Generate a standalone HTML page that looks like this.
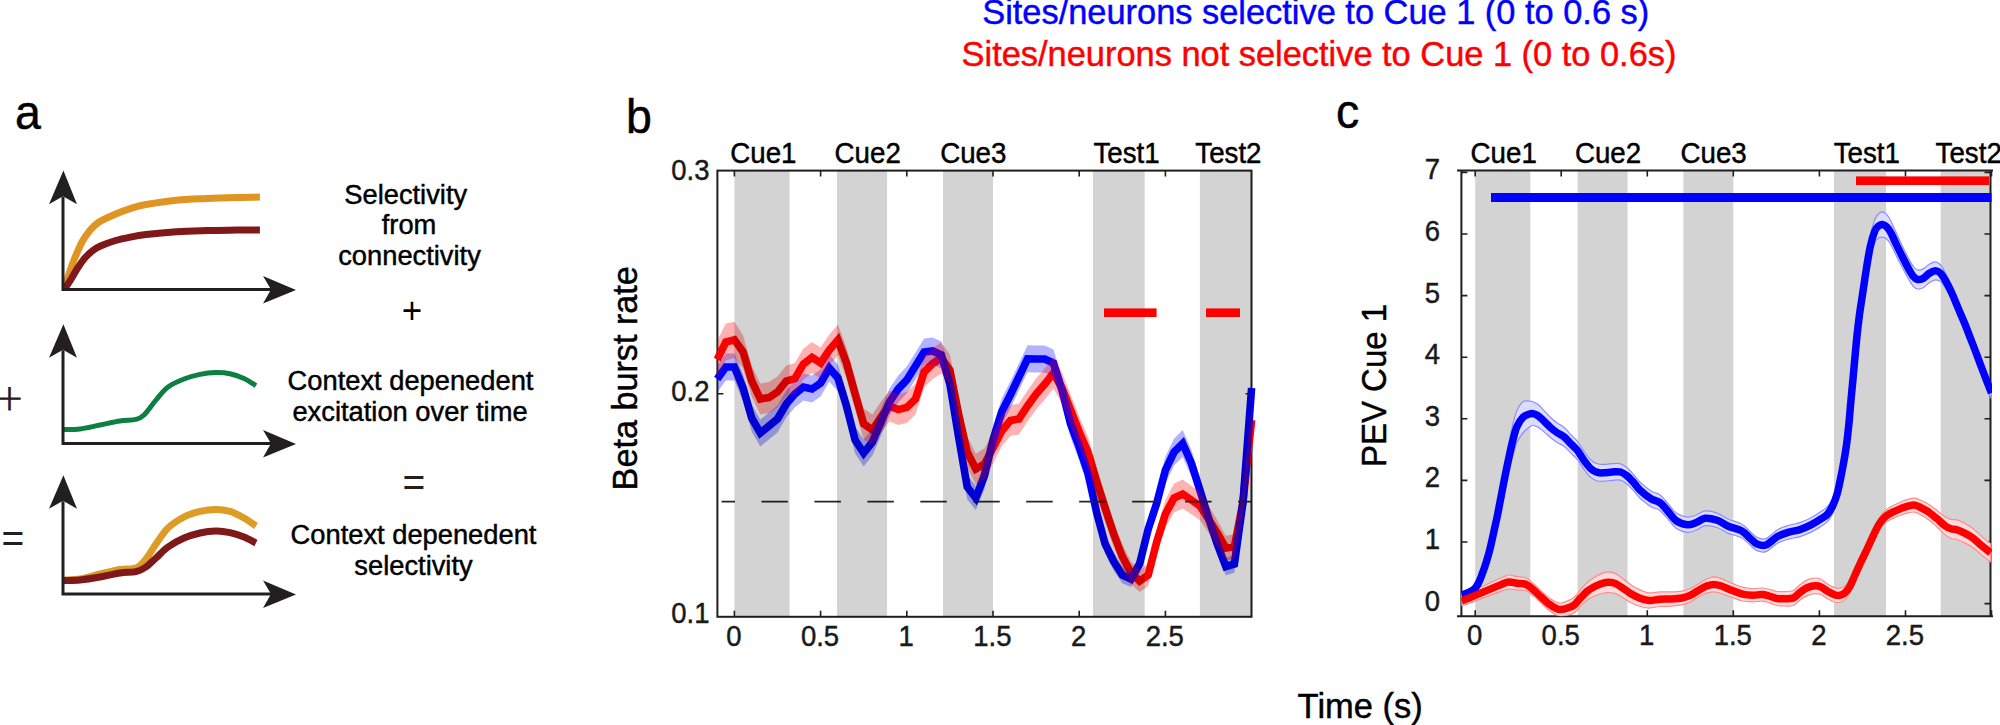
<!DOCTYPE html>
<html lang="en"><head><meta charset="utf-8"><title>Figure</title>
<style>html,body{margin:0;padding:0;background:#fff}body{width:2000px;height:725px;overflow:hidden}svg{display:block}text{font-family:'Liberation Sans', Arial, sans-serif;fill:#000;stroke:#000;stroke-width:0.45px}.bl{fill:#00f;stroke:#00f}.rd{fill:#f00;stroke:#f00}.dk{fill:#231f20;stroke:#231f20}.tk{fill:#1a1a1a;stroke:#1a1a1a}</style>
</head><body>
<svg width="2000" height="725" viewBox="0 0 2000 725">
<rect width="2000" height="725" fill="#fff"/>
<text transform="translate(1315.7,24.4) scale(1,1.04)" font-size="34.4" text-anchor="middle" class="bl">Sites/neurons selective to Cue 1 (0 to 0.6 s)</text>
<text transform="translate(1319,66) scale(1,1.04)" font-size="34.4" text-anchor="middle" class="rd">Sites/neurons not selective to Cue 1 (0 to 0.6s)</text>
<g id="panel-a">
<text transform="translate(15,128.6) scale(1,1.04)" font-size="46.5">a</text>
<path d="M65.5,285.5 C66.1,283.6 67.6,278.2 69.0,274.0 C70.4,269.8 71.8,265.4 74.0,260.0 C76.2,254.6 79.6,246.4 82.3,241.5 C85.0,236.6 87.1,233.8 89.9,230.5 C92.7,227.2 94.7,224.8 99.0,222.0 C103.3,219.2 110.4,216.3 115.7,214.0 C121.0,211.7 125.9,209.9 130.9,208.3 C136.0,206.7 138.4,205.8 146.0,204.5 C153.6,203.2 166.3,201.2 176.4,200.2 C186.5,199.2 196.6,198.9 206.7,198.4 C216.8,197.9 228.2,197.6 237.1,197.4 C246.0,197.2 256.1,197.2 259.9,197.1" fill="none" stroke="#e09422" stroke-width="7"/>
<path d="M65.0,288.5 C65.9,287.1 68.4,283.5 70.6,280.0 C72.8,276.5 75.5,271.2 78.0,267.5 C80.5,263.8 82.8,260.3 85.3,257.5 C87.8,254.7 90.4,252.4 92.9,250.5 C95.4,248.6 96.7,247.7 100.5,246.0 C104.3,244.3 110.6,242.0 115.7,240.5 C120.8,239.0 125.9,238.0 130.9,237.0 C136.0,236.0 138.4,235.5 146.0,234.6 C153.6,233.7 166.3,232.4 176.4,231.7 C186.5,231.0 196.6,230.8 206.7,230.5 C216.8,230.2 228.2,230.2 237.1,230.1 C246.0,230.0 256.1,230.1 259.9,230.1" fill="none" stroke="#7f1818" stroke-width="7"/>
<path d="M63.5,429.6 C66.2,429.5 73.9,429.8 80.0,429.0 C86.1,428.2 93.3,426.3 100.0,425.0 C106.7,423.7 114.0,421.9 120.0,421.0 C126.0,420.1 132.0,420.4 136.0,419.4 C140.0,418.4 140.7,418.2 144.0,415.0 C147.3,411.8 152.0,404.7 156.0,400.0 C160.0,395.3 163.3,390.5 168.0,387.0 C172.7,383.5 178.7,381.1 184.0,379.0 C189.3,376.9 194.7,375.5 200.0,374.4 C205.3,373.3 211.0,372.7 216.0,372.6 C221.0,372.5 225.3,372.8 230.0,373.8 C234.7,374.8 239.7,376.4 244.0,378.4 C248.3,380.4 254.0,384.4 256.0,385.6" fill="none" stroke="#0d7f40" stroke-width="5"/>
<path d="M63.5,580.0 C66.2,579.8 73.9,580.0 80.0,579.0 C86.1,578.0 93.3,575.6 100.0,574.0 C106.7,572.4 114.0,570.4 120.0,569.4 C126.0,568.4 131.7,569.7 136.0,568.0 C140.3,566.3 142.7,563.0 146.0,559.0 C149.3,555.0 152.3,549.2 156.0,544.0 C159.7,538.8 163.3,532.5 168.0,528.0 C172.7,523.5 178.7,519.8 184.0,517.0 C189.3,514.2 194.7,512.7 200.0,511.4 C205.3,510.1 211.0,509.4 216.0,509.4 C221.0,509.4 225.3,510.0 230.0,511.4 C234.7,512.8 239.7,515.6 244.0,518.0 C248.3,520.4 254.0,524.7 256.0,526.0" fill="none" stroke="#dc9c26" stroke-width="7"/>
<path d="M63.5,580.4 C66.2,580.3 73.9,580.6 80.0,580.0 C86.1,579.4 93.3,578.2 100.0,577.0 C106.7,575.8 114.0,573.9 120.0,573.0 C126.0,572.1 131.7,572.6 136.0,571.6 C140.3,570.6 142.7,569.3 146.0,567.0 C149.3,564.7 152.3,561.3 156.0,558.0 C159.7,554.7 163.3,550.3 168.0,547.0 C172.7,543.7 178.7,540.3 184.0,538.0 C189.3,535.7 194.7,534.2 200.0,533.0 C205.3,531.8 211.0,531.1 216.0,531.0 C221.0,530.9 225.3,531.6 230.0,532.6 C234.7,533.6 239.7,535.3 244.0,537.0 C248.3,538.7 254.0,542.0 256.0,543.0" fill="none" stroke="#7f1818" stroke-width="7"/>
<path d="M63,196.6 V289.6 H272" fill="none" stroke="#231f20" stroke-width="3" stroke-linejoin="miter"/>
<path d="M63.4,170.6 L77,204.2 L63,196.2 L49,204.2 Z" fill="#231f20"/>
<path d="M296,290.0 L263,303.6 L271,289.6 L263,276.0 Z" fill="#231f20"/>
<path d="M63,350.2 V443.6 H272" fill="none" stroke="#231f20" stroke-width="3" stroke-linejoin="miter"/>
<path d="M63.4,324.2 L77,357.8 L63,349.8 L49,357.8 Z" fill="#231f20"/>
<path d="M296,444.0 L263,457.6 L271,443.6 L263,430.0 Z" fill="#231f20"/>
<path d="M63,501.2 V594 H272" fill="none" stroke="#231f20" stroke-width="3" stroke-linejoin="miter"/>
<path d="M63.4,475.2 L77,508.8 L63,500.8 L49,508.8 Z" fill="#231f20"/>
<path d="M296,594.4 L263,608 L271,594 L263,580.4 Z" fill="#231f20"/>
<text transform="translate(9.6,409.7) scale(1,1.04)" font-size="34" text-anchor="middle" class="dk" style="font-family:'DejaVu Sans','Liberation Sans',sans-serif;font-weight:200;stroke-width:0.9px">+</text>
<text transform="translate(13,551.5) scale(1,1.04)" font-size="39" text-anchor="middle" class="dk" style="stroke:none">=</text>
<text transform="translate(405.7,203.6) scale(1,1.04)" font-size="27.3" text-anchor="middle">Selectivity</text>
<text transform="translate(409,234.4) scale(1,1.04)" font-size="27.3" text-anchor="middle">from</text>
<text transform="translate(409.5,265) scale(1,1.04)" font-size="27.3" text-anchor="middle">connectivity</text>
<text transform="translate(410.5,390) scale(1,1.04)" font-size="27.3" text-anchor="middle">Context depenedent</text>
<text transform="translate(410,421) scale(1,1.04)" font-size="27.3" text-anchor="middle">excitation over time</text>
<text transform="translate(413.5,544) scale(1,1.04)" font-size="27.3" text-anchor="middle">Context depenedent</text>
<text transform="translate(413.5,575) scale(1,1.04)" font-size="27.3" text-anchor="middle">selectivity</text>
<text transform="translate(411.9,323.3) scale(1,1.04)" font-size="35" text-anchor="middle" style="stroke:none">+</text>
<text transform="translate(413.9,496.3) scale(1,1.04)" font-size="39" text-anchor="middle" class="dk" style="stroke:none">=</text>
</g>
<g id="panel-b">
<text transform="translate(626,133) scale(1,1.04)" font-size="46.5">b</text>
<rect x="717.4" y="170.6" width="534.1" height="446.19999999999993" fill="none" stroke="#1f1f1f" stroke-width="2"/>
<clipPath id="clipb"><rect x="711.4" y="170.6" width="544.6" height="446.19999999999993"/></clipPath>
<g clip-path="url(#clipb)">
<polyline points="717.2,359.5 725.8,342.0 734.4,339.8 743.1,352.0 751.7,381.0 760.3,399.0 768.9,397.6 777.5,392.0 786.2,381.0 794.8,378.6 803.4,364.0 812.0,357.4 820.6,363.0 829.3,350.0 837.9,340.0 846.5,363.0 855.1,394.0 863.7,424.0 872.4,430.0 881.0,417.0 889.6,406.0 898.2,409.6 906.8,407.4 915.5,399.0 924.1,372.0 932.7,363.6 941.3,358.0 949.9,370.0 958.6,414.0 967.2,452.0 975.8,469.0 984.4,464.0 993.0,448.0 1001.7,431.0 1010.3,420.5 1018.9,419.0 1027.5,406.0 1036.1,394.0 1044.8,384.0 1053.4,373.0 1062.0,388.0 1070.6,410.0 1079.2,432.0 1087.9,452.0 1096.5,481.0 1105.1,508.0 1113.7,534.0 1122.3,556.5 1131.0,572.7 1139.6,581.0 1148.2,575.0 1156.8,541.6 1165.4,514.0 1174.1,498.0 1182.7,494.0 1191.3,500.0 1199.9,506.0 1208.5,519.0 1217.2,533.0 1225.8,548.0 1234.4,546.6 1243.0,502.0 1251.6,420.0" fill="none" stroke="#ff0000" stroke-width="7.6" stroke-linejoin="miter" stroke-miterlimit="3"/>
<polyline points="717.2,379.0 725.8,367.0 734.4,367.0 743.1,388.0 751.7,418.0 760.3,433.0 768.9,426.0 777.5,419.0 786.2,404.0 794.8,394.0 803.4,387.0 812.0,389.0 820.6,383.0 829.3,368.0 837.9,378.0 846.5,406.0 855.1,440.0 863.7,453.0 872.4,442.0 881.0,422.0 889.6,402.0 898.2,389.0 906.8,380.0 915.5,366.0 924.1,352.0 932.7,351.0 941.3,355.0 949.9,384.0 958.6,437.0 967.2,487.0 975.8,498.0 984.4,476.0 993.0,440.0 1001.7,412.0 1010.3,395.0 1018.9,377.0 1027.5,358.8 1036.1,359.0 1044.8,359.0 1053.4,363.0 1062.0,390.0 1070.6,424.0 1079.2,447.0 1087.9,473.0 1096.5,512.0 1105.1,544.0 1113.7,561.5 1122.3,575.0 1131.0,579.0 1139.6,564.0 1148.2,529.0 1156.8,503.0 1165.4,470.0 1174.1,452.0 1182.7,443.5 1191.3,463.0 1199.9,490.0 1208.5,518.0 1217.2,544.0 1225.8,566.5 1234.4,564.0 1243.0,502.0 1251.6,388.0" fill="none" stroke="#0000ff" stroke-width="7.6" stroke-linejoin="miter" stroke-miterlimit="3"/>
<polygon points="717.2,365.5 725.8,353.5 734.4,353.5 743.1,374.5 751.7,404.5 760.3,419.5 768.9,412.5 777.5,405.5 786.2,390.5 794.8,380.5 803.4,373.5 812.0,375.5 820.6,369.5 829.3,354.5 837.9,364.5 846.5,392.5 855.1,426.5 863.7,439.5 872.4,428.5 881.0,408.5 889.6,388.5 898.2,375.5 906.8,366.5 915.5,352.5 924.1,338.5 932.7,337.5 941.3,341.5 949.9,370.5 958.6,423.5 967.2,474.4 975.8,485.9 984.4,462.8 993.0,426.5 1001.7,398.5 1010.3,381.5 1018.9,363.5 1027.5,345.3 1036.1,345.5 1044.8,345.5 1053.4,349.5 1062.0,376.5 1070.6,410.5 1079.2,433.5 1087.9,459.6 1096.5,500.6 1105.1,534.2 1113.7,552.6 1122.3,566.8 1131.0,571.0 1139.6,555.2 1148.2,518.5 1156.8,491.1 1165.4,456.5 1174.1,438.5 1182.7,430.0 1191.3,449.5 1199.9,477.5 1208.5,506.9 1217.2,534.2 1225.8,557.8 1234.4,555.2 1243.0,490.1 1251.6,374.5 1251.6,401.5 1243.0,513.9 1234.4,572.8 1225.8,575.2 1217.2,553.8 1208.5,529.1 1199.9,502.5 1191.3,476.5 1182.7,457.0 1174.1,465.5 1165.4,483.5 1156.8,514.9 1148.2,539.5 1139.6,572.8 1131.0,587.0 1122.3,583.2 1113.7,570.4 1105.1,553.8 1096.5,523.4 1087.9,486.4 1079.2,460.5 1070.6,437.5 1062.0,403.5 1053.4,376.5 1044.8,372.5 1036.1,372.5 1027.5,372.3 1018.9,390.5 1010.3,408.5 1001.7,425.5 993.0,453.5 984.4,489.2 975.8,510.1 967.2,499.6 958.6,450.5 949.9,397.5 941.3,368.5 932.7,364.5 924.1,365.5 915.5,379.5 906.8,393.5 898.2,402.5 889.6,415.5 881.0,435.5 872.4,455.5 863.7,466.5 855.1,453.5 846.5,419.5 837.9,391.5 829.3,381.5 820.6,396.5 812.0,402.5 803.4,400.5 794.8,407.5 786.2,417.5 777.5,432.5 768.9,439.5 760.3,446.5 751.7,431.5 743.1,401.5 734.4,380.5 725.8,380.5 717.2,392.5" fill="#0000ff" fill-opacity="0.3"/>
<polygon points="717.2,341.0 725.8,323.5 734.4,321.8 743.1,335.5 751.7,365.5 760.3,383.5 768.9,382.1 777.5,376.5 786.2,365.5 794.8,363.1 803.4,348.5 812.0,341.9 820.6,347.5 829.3,334.5 837.9,324.5 846.5,347.5 855.1,378.5 863.7,408.5 872.4,414.5 881.0,401.5 889.6,390.5 898.2,394.1 906.8,391.9 915.5,383.5 924.1,356.5 932.7,348.1 941.3,342.5 949.9,354.5 958.6,398.5 967.2,436.5 975.8,453.5 984.4,448.5 993.0,432.5 1001.7,415.5 1010.3,405.0 1018.9,403.5 1027.5,390.5 1036.1,378.5 1044.8,368.5 1053.4,357.5 1062.0,372.5 1070.6,394.5 1079.2,416.5 1087.9,436.5 1096.5,465.9 1105.1,494.1 1113.7,521.1 1122.3,544.5 1131.0,561.4 1139.6,570.0 1148.2,563.8 1156.8,529.0 1165.4,500.3 1174.1,483.6 1182.7,479.5 1191.3,485.7 1199.9,492.0 1208.5,505.5 1217.2,520.1 1225.8,535.7 1234.4,534.2 1243.0,487.8 1251.6,404.5 1251.6,435.5 1243.0,516.2 1234.4,559.0 1225.8,560.3 1217.2,545.9 1208.5,532.5 1199.9,520.0 1191.3,514.3 1182.7,508.5 1174.1,512.4 1165.4,527.7 1156.8,554.2 1148.2,586.2 1139.6,592.0 1131.0,584.0 1122.3,568.5 1113.7,546.9 1105.1,521.9 1096.5,496.1 1087.9,467.5 1079.2,447.5 1070.6,425.5 1062.0,403.5 1053.4,388.5 1044.8,399.5 1036.1,409.5 1027.5,421.5 1018.9,434.5 1010.3,436.0 1001.7,446.5 993.0,463.5 984.4,479.5 975.8,484.5 967.2,467.5 958.6,429.5 949.9,385.5 941.3,373.5 932.7,379.1 924.1,387.5 915.5,414.5 906.8,422.9 898.2,425.1 889.6,421.5 881.0,432.5 872.4,445.5 863.7,439.5 855.1,409.5 846.5,378.5 837.9,355.5 829.3,365.5 820.6,378.5 812.0,372.9 803.4,379.5 794.8,394.1 786.2,396.5 777.5,407.5 768.9,413.1 760.3,414.5 751.7,396.5 743.1,368.5 734.4,357.8 725.8,360.5 717.2,378.0" fill="#ff0000" fill-opacity="0.3"/>
<line x1="721.5" y1="501.6" x2="1251.5" y2="501.6" stroke="#262626" stroke-width="1.8" stroke-dasharray="26.5 26.45" stroke-dashoffset="13"/>
</g>
<rect x="734.4" y="170.6" width="55.2" height="446.19999999999993" fill="#000" fill-opacity="0.173"/>
<rect x="837.0" y="170.6" width="50.0" height="446.19999999999993" fill="#000" fill-opacity="0.173"/>
<rect x="943.0" y="170.6" width="50.0" height="446.19999999999993" fill="#000" fill-opacity="0.173"/>
<rect x="1093.0" y="170.6" width="51.7" height="446.19999999999993" fill="#000" fill-opacity="0.173"/>
<rect x="1199.9" y="170.6" width="51.6" height="446.19999999999993" fill="#000" fill-opacity="0.173"/>
<rect x="1104" y="308.4" width="52.6" height="8.6" fill="#ff0000"/>
<rect x="1206" y="308.4" width="34" height="8.6" fill="#ff0000"/>
<path d="M734.4,616.8 v-6 M734.4,170.6 v6" stroke="#1f1f1f" stroke-width="1.6" fill="none"/>
<text transform="translate(733.8,645.6) scale(1,1.04)" font-size="27.5" text-anchor="middle" class="tk">0</text>
<path d="M820.6,616.8 v-6 M820.6,170.6 v6" stroke="#1f1f1f" stroke-width="1.6" fill="none"/>
<text transform="translate(820.0,645.6) scale(1,1.04)" font-size="27.5" text-anchor="middle" class="tk">0.5</text>
<path d="M906.8,616.8 v-6 M906.8,170.6 v6" stroke="#1f1f1f" stroke-width="1.6" fill="none"/>
<text transform="translate(906.2,645.6) scale(1,1.04)" font-size="27.5" text-anchor="middle" class="tk">1</text>
<path d="M993.0,616.8 v-6 M993.0,170.6 v6" stroke="#1f1f1f" stroke-width="1.6" fill="none"/>
<text transform="translate(992.4,645.6) scale(1,1.04)" font-size="27.5" text-anchor="middle" class="tk">1.5</text>
<path d="M1079.2,616.8 v-6 M1079.2,170.6 v6" stroke="#1f1f1f" stroke-width="1.6" fill="none"/>
<text transform="translate(1078.6,645.6) scale(1,1.04)" font-size="27.5" text-anchor="middle" class="tk">2</text>
<path d="M1165.4,616.8 v-6 M1165.4,170.6 v6" stroke="#1f1f1f" stroke-width="1.6" fill="none"/>
<text transform="translate(1164.8,645.6) scale(1,1.04)" font-size="27.5" text-anchor="middle" class="tk">2.5</text>
<text transform="translate(709.5,179.6) scale(1,1.04)" font-size="27.5" text-anchor="end" class="tk">0.3</text>
<path d="M717.4,393.7 h6 M1251.5,393.7 h-6" stroke="#1f1f1f" stroke-width="1.6" fill="none"/>
<text transform="translate(709.5,400.5) scale(1,1.04)" font-size="27.5" text-anchor="end" class="tk">0.2</text>
<text transform="translate(709.5,623) scale(1,1.04)" font-size="27.5" text-anchor="end" class="tk">0.1</text>
<text transform="translate(730.3,162.7) scale(1,1.04)" font-size="27.7">Cue1</text>
<text transform="translate(834.6,162.7) scale(1,1.04)" font-size="27.7">Cue2</text>
<text transform="translate(940.2,162.7) scale(1,1.04)" font-size="27.7">Cue3</text>
<text transform="translate(1093.4,162.7) scale(1,1.04)" font-size="27.7">Test1</text>
<text transform="translate(1195.3,162.7) scale(1,1.04)" font-size="27.7">Test2</text>
<text transform="translate(636.5,378.3) rotate(-90) scale(1,1.04)" font-size="34.2" text-anchor="middle">Beta burst rate</text>
</g>
<g id="panel-c">
<text transform="translate(1336,128.4) scale(1,1.04)" font-size="46.5">c</text>
<rect x="1475.2" y="170.4" width="55.1" height="445.80000000000007" fill="#d3d3d3"/>
<rect x="1577.6" y="170.4" width="49.9" height="445.80000000000007" fill="#d3d3d3"/>
<rect x="1683.4" y="170.4" width="49.9" height="445.80000000000007" fill="#d3d3d3"/>
<rect x="1834.0" y="170.4" width="52.0" height="445.80000000000007" fill="#d3d3d3"/>
<rect x="1940.7" y="170.4" width="49.8" height="445.80000000000007" fill="#d3d3d3"/>
<path d="M1457,170.4 H1993 M1457,616.2 H1993 M1461.4,170.4 V616.2 M1990.5,170.4 V616.2" stroke="#1f1f1f" stroke-width="2" fill="none"/>
<path d="M1475.2,616.2 v-6 M1475.2,170.4 v6" stroke="#1f1f1f" stroke-width="1.6" fill="none"/>
<text transform="translate(1474.6,645.2) scale(1,1.04)" font-size="27.5" text-anchor="middle" class="tk">0</text>
<path d="M1561.2,616.2 v-6 M1561.2,170.4 v6" stroke="#1f1f1f" stroke-width="1.6" fill="none"/>
<text transform="translate(1560.7,645.2) scale(1,1.04)" font-size="27.5" text-anchor="middle" class="tk">0.5</text>
<path d="M1647.3,616.2 v-6 M1647.3,170.4 v6" stroke="#1f1f1f" stroke-width="1.6" fill="none"/>
<text transform="translate(1646.7,645.2) scale(1,1.04)" font-size="27.5" text-anchor="middle" class="tk">1</text>
<path d="M1733.3,616.2 v-6 M1733.3,170.4 v6" stroke="#1f1f1f" stroke-width="1.6" fill="none"/>
<text transform="translate(1732.8,645.2) scale(1,1.04)" font-size="27.5" text-anchor="middle" class="tk">1.5</text>
<path d="M1819.4,616.2 v-6 M1819.4,170.4 v6" stroke="#1f1f1f" stroke-width="1.6" fill="none"/>
<text transform="translate(1818.8,645.2) scale(1,1.04)" font-size="27.5" text-anchor="middle" class="tk">2</text>
<path d="M1905.5,616.2 v-6 M1905.5,170.4 v6" stroke="#1f1f1f" stroke-width="1.6" fill="none"/>
<text transform="translate(1904.9,645.2) scale(1,1.04)" font-size="27.5" text-anchor="middle" class="tk">2.5</text>
<path d="M1991.5,616.2 v-6 M1991.5,170.4 v6" stroke="#1f1f1f" stroke-width="1.6" fill="none"/>
<path d="M1461.4,603.6 h6 M1990.5,603.6 h-6" stroke="#1f1f1f" stroke-width="1.6" fill="none"/>
<text transform="translate(1440,610.6) scale(1,1.04)" font-size="27.5" text-anchor="end" class="tk">0</text>
<path d="M1461.4,542.0 h6 M1990.5,542.0 h-6" stroke="#1f1f1f" stroke-width="1.6" fill="none"/>
<text transform="translate(1440,549.0) scale(1,1.04)" font-size="27.5" text-anchor="end" class="tk">1</text>
<path d="M1461.4,480.4 h6 M1990.5,480.4 h-6" stroke="#1f1f1f" stroke-width="1.6" fill="none"/>
<text transform="translate(1440,487.4) scale(1,1.04)" font-size="27.5" text-anchor="end" class="tk">2</text>
<path d="M1461.4,418.8 h6 M1990.5,418.8 h-6" stroke="#1f1f1f" stroke-width="1.6" fill="none"/>
<text transform="translate(1440,425.8) scale(1,1.04)" font-size="27.5" text-anchor="end" class="tk">3</text>
<path d="M1461.4,357.2 h6 M1990.5,357.2 h-6" stroke="#1f1f1f" stroke-width="1.6" fill="none"/>
<text transform="translate(1440,364.2) scale(1,1.04)" font-size="27.5" text-anchor="end" class="tk">4</text>
<path d="M1461.4,295.6 h6 M1990.5,295.6 h-6" stroke="#1f1f1f" stroke-width="1.6" fill="none"/>
<text transform="translate(1440,302.6) scale(1,1.04)" font-size="27.5" text-anchor="end" class="tk">5</text>
<path d="M1461.4,234.0 h6 M1990.5,234.0 h-6" stroke="#1f1f1f" stroke-width="1.6" fill="none"/>
<text transform="translate(1440,241.0) scale(1,1.04)" font-size="27.5" text-anchor="end" class="tk">6</text>
<path d="M1461.4,172.4 h6 M1990.5,172.4 h-6" stroke="#1f1f1f" stroke-width="1.6" fill="none"/>
<text transform="translate(1440,179.4) scale(1,1.04)" font-size="27.5" text-anchor="end" class="tk">7</text>
<clipPath id="clipc"><rect x="1461.4" y="170.4" width="530.5999999999999" height="445.80000000000007"/></clipPath>
<g clip-path="url(#clipc)">
<path d="M1461.6,593.1 C1462.7,592.6 1466.1,591.1 1468.2,589.9 C1470.3,588.8 1472.3,587.7 1474.0,586.0 C1475.7,584.3 1476.8,582.6 1478.2,579.8 C1479.6,577.0 1480.9,573.1 1482.3,569.1 C1483.7,565.1 1485.1,560.6 1486.5,555.7 C1487.9,550.8 1489.4,545.0 1490.6,539.8 C1491.8,534.5 1492.8,529.3 1493.9,524.0 C1495.0,518.8 1496.1,513.9 1497.2,508.3 C1498.3,502.7 1499.2,497.2 1500.5,490.2 C1501.8,483.2 1503.3,473.8 1504.7,466.1 C1506.1,458.3 1507.4,450.9 1508.8,443.9 C1510.2,436.8 1511.6,429.3 1513.0,423.7 C1514.4,418.1 1515.3,414.2 1517.0,410.5 C1518.7,406.8 1520.8,403.3 1522.9,401.8 C1525.0,400.2 1527.8,401.0 1529.5,401.0 C1531.2,401.0 1531.4,401.1 1532.8,401.7 C1534.2,402.2 1535.9,402.8 1537.8,404.3 C1539.7,405.9 1542.2,408.6 1544.4,410.9 C1546.6,413.2 1548.8,416.0 1551.0,418.0 C1553.2,420.1 1555.4,421.7 1557.6,423.3 C1559.8,424.8 1562.1,425.6 1564.3,427.5 C1566.5,429.4 1568.7,432.3 1570.9,434.6 C1573.1,436.9 1575.3,438.6 1577.5,441.4 C1579.7,444.2 1581.8,448.4 1584.0,451.5 C1586.2,454.6 1588.6,457.9 1590.8,460.0 C1593.0,462.0 1595.2,463.1 1597.4,463.8 C1599.6,464.6 1601.5,464.4 1604.0,464.4 C1606.5,464.3 1609.5,463.8 1612.3,463.7 C1615.1,463.6 1618.1,463.1 1620.6,463.8 C1623.1,464.5 1625.0,466.0 1627.2,467.8 C1629.4,469.7 1631.6,472.3 1633.8,474.7 C1636.0,477.2 1637.5,479.8 1640.4,482.5 C1643.3,485.2 1647.8,488.8 1651.0,490.9 C1654.2,492.9 1657.1,492.7 1659.9,494.8 C1662.7,496.8 1664.8,500.1 1667.6,503.1 C1670.3,506.2 1673.1,510.8 1676.4,513.1 C1679.7,515.4 1684.1,516.8 1687.4,517.1 C1690.7,517.4 1693.3,516.0 1696.3,515.0 C1699.2,513.9 1701.6,511.2 1705.1,510.9 C1708.6,510.6 1713.3,511.7 1717.2,513.1 C1721.1,514.5 1724.2,517.4 1728.3,519.2 C1732.3,521.0 1737.8,521.8 1741.5,523.9 C1745.2,526.0 1747.7,529.5 1750.3,531.8 C1752.9,534.0 1754.4,536.2 1757.0,537.4 C1759.6,538.5 1762.3,539.9 1765.8,538.6 C1769.3,537.3 1774.2,531.8 1777.9,529.6 C1781.6,527.4 1784.1,526.7 1787.8,525.5 C1791.5,524.4 1796.1,523.9 1800.0,522.6 C1803.9,521.3 1807.5,519.5 1811.0,517.7 C1814.5,515.9 1818.3,513.4 1821.0,511.5 C1823.7,509.7 1825.5,508.9 1827.4,506.7 C1829.3,504.5 1831.0,501.6 1832.6,498.4 C1834.2,495.1 1835.6,491.1 1836.8,487.2 C1838.0,483.2 1838.7,479.7 1839.7,474.8 C1840.7,470.0 1841.9,464.2 1843.0,458.1 C1844.1,451.9 1845.3,445.0 1846.3,438.1 C1847.3,431.1 1848.0,424.1 1848.8,416.4 C1849.6,408.6 1850.3,398.8 1851.0,391.4 C1851.7,384.1 1852.2,378.3 1852.8,372.4 C1853.3,366.4 1853.7,362.7 1854.3,355.8 C1854.9,348.9 1855.8,339.0 1856.6,330.9 C1857.4,322.7 1858.3,314.8 1859.3,307.0 C1860.3,299.3 1861.4,292.8 1862.6,284.6 C1863.8,276.4 1865.2,266.1 1866.5,257.9 C1867.8,249.7 1869.0,241.7 1870.4,235.3 C1871.8,228.9 1873.5,223.1 1874.8,219.5 C1876.1,216.0 1877.3,215.2 1878.5,213.9 C1879.7,212.6 1880.9,211.7 1882.2,211.8 C1883.5,211.9 1885.1,212.9 1886.6,214.4 C1888.1,216.0 1889.5,218.2 1891.0,221.2 C1892.5,224.1 1894.1,228.1 1895.9,232.1 C1897.7,236.1 1899.9,240.9 1902.0,245.2 C1904.1,249.5 1906.4,254.4 1908.3,258.0 C1910.2,261.5 1911.8,264.5 1913.3,266.5 C1914.8,268.5 1915.9,269.6 1917.6,270.0 C1919.2,270.4 1921.2,269.9 1923.2,268.9 C1925.2,268.0 1927.3,265.3 1929.4,264.1 C1931.5,262.9 1933.7,261.6 1935.6,261.8 C1937.5,261.9 1938.9,263.1 1940.6,265.0 C1942.2,266.8 1943.6,269.5 1945.5,273.1 C1947.4,276.6 1949.8,281.6 1951.8,286.0 C1953.8,290.5 1955.4,294.7 1957.5,299.8 C1959.6,304.8 1962.0,310.2 1964.5,316.4 C1967.0,322.5 1969.6,329.6 1972.3,336.6 C1975.0,343.5 1977.7,351.0 1980.4,358.3 C1983.1,365.5 1986.9,375.2 1988.7,380.0 C1990.5,384.8 1991.0,385.8 1991.5,387.0 L1991.5,399.0 C1991.0,397.8 1990.5,396.7 1988.7,392.0 C1986.9,387.3 1983.1,377.8 1980.4,370.7 C1977.7,363.6 1975.0,356.3 1972.3,349.4 C1969.6,342.6 1967.0,335.6 1964.5,329.6 C1962.0,323.6 1959.6,318.4 1957.5,313.4 C1955.4,308.5 1953.8,304.1 1951.8,300.0 C1949.8,295.8 1947.4,291.4 1945.5,288.3 C1943.6,285.3 1942.2,283.1 1940.6,281.6 C1938.9,280.2 1937.5,279.7 1935.6,279.8 C1933.7,280.0 1931.5,281.2 1929.4,282.5 C1927.3,283.8 1925.2,286.6 1923.2,287.7 C1921.2,288.7 1919.2,289.3 1917.6,289.0 C1915.9,288.8 1914.8,288.0 1913.3,286.3 C1911.8,284.6 1910.2,281.9 1908.3,278.6 C1906.4,275.4 1904.1,270.8 1902.0,266.8 C1899.9,262.9 1897.7,258.6 1895.9,254.9 C1894.1,251.2 1892.5,247.5 1891.0,244.8 C1889.5,242.2 1888.1,240.2 1886.6,239.0 C1885.1,237.7 1883.5,237.3 1882.2,237.2 C1880.9,237.0 1879.7,237.2 1878.5,238.1 C1877.3,239.0 1876.1,239.4 1874.8,242.5 C1873.5,245.6 1871.8,250.8 1870.4,256.7 C1869.0,262.7 1867.8,270.3 1866.5,278.1 C1865.2,285.9 1863.8,295.6 1862.6,303.4 C1861.4,311.2 1860.3,317.4 1859.3,325.0 C1858.3,332.5 1857.4,340.5 1856.6,348.5 C1855.8,356.6 1854.9,366.4 1854.3,373.2 C1853.7,380.1 1853.3,383.8 1852.8,389.6 C1852.2,395.5 1851.7,401.3 1851.0,408.6 C1850.3,415.8 1849.6,425.5 1848.8,433.2 C1848.0,440.9 1847.3,447.9 1846.3,454.7 C1845.3,461.6 1844.1,468.3 1843.0,474.3 C1841.9,480.4 1840.7,486.0 1839.7,490.8 C1838.7,495.5 1838.0,499.0 1836.8,502.8 C1835.6,506.6 1834.2,510.5 1832.6,513.6 C1831.0,516.8 1829.3,519.6 1827.4,521.7 C1825.5,523.8 1823.7,524.5 1821.0,526.3 C1818.3,528.0 1814.5,530.4 1811.0,532.1 C1807.5,533.8 1803.9,535.4 1800.0,536.6 C1796.1,537.8 1791.5,538.2 1787.8,539.3 C1784.1,540.3 1781.6,540.9 1777.9,543.0 C1774.2,545.1 1769.3,550.3 1765.8,551.6 C1762.3,552.9 1759.6,551.7 1757.0,550.6 C1754.4,549.6 1752.9,547.4 1750.3,545.2 C1747.7,543.1 1745.2,539.6 1741.5,537.7 C1737.8,535.7 1732.3,535.1 1728.3,533.4 C1724.2,531.7 1721.1,528.8 1717.2,527.5 C1713.3,526.3 1708.6,525.3 1705.1,525.7 C1701.6,526.1 1699.2,528.9 1696.3,530.0 C1693.3,531.1 1690.7,532.6 1687.4,532.3 C1684.1,532.0 1679.7,530.8 1676.4,528.5 C1673.1,526.2 1670.3,521.7 1667.6,518.7 C1664.8,515.7 1662.7,512.4 1659.9,510.4 C1657.1,508.4 1654.2,508.7 1651.0,506.7 C1647.8,504.7 1643.3,501.1 1640.4,498.5 C1637.5,495.9 1636.0,493.3 1633.8,490.9 C1631.6,488.5 1629.4,485.9 1627.2,484.2 C1625.0,482.4 1623.1,480.9 1620.6,480.2 C1618.1,479.6 1615.1,480.2 1612.3,480.3 C1609.5,480.5 1606.5,481.1 1604.0,481.2 C1601.5,481.4 1599.6,481.6 1597.4,481.0 C1595.2,480.3 1593.0,479.4 1590.8,477.4 C1588.6,475.5 1586.2,472.3 1584.0,469.3 C1581.8,466.3 1579.7,462.3 1577.5,459.6 C1575.3,456.9 1573.1,455.4 1570.9,453.2 C1568.7,451.0 1566.5,448.3 1564.3,446.5 C1562.1,444.8 1559.8,444.2 1557.6,442.7 C1555.4,441.3 1553.2,439.7 1551.0,438.0 C1548.8,436.2 1546.6,433.9 1544.4,432.1 C1542.2,430.3 1539.7,428.2 1537.8,427.1 C1535.9,426.0 1534.2,425.5 1532.8,425.5 C1531.4,425.5 1531.2,425.7 1529.5,427.0 C1527.8,428.3 1525.0,430.5 1522.9,433.0 C1520.8,435.6 1518.7,438.7 1517.0,442.5 C1515.3,446.3 1514.4,450.8 1513.0,455.7 C1511.6,460.6 1510.2,466.5 1508.8,472.1 C1507.4,477.8 1506.1,483.4 1504.7,489.5 C1503.3,495.7 1501.8,502.9 1500.5,508.8 C1499.2,514.7 1498.3,519.9 1497.2,524.9 C1496.1,529.9 1495.0,534.3 1493.9,539.0 C1492.8,543.7 1491.8,548.4 1490.6,553.0 C1489.4,557.7 1487.9,562.7 1486.5,566.9 C1485.1,571.1 1483.7,574.9 1482.3,578.3 C1480.9,581.7 1479.6,585.0 1478.2,587.4 C1476.8,589.8 1475.7,591.4 1474.0,592.8 C1472.3,594.1 1470.3,594.7 1468.2,595.5 C1466.1,596.2 1462.7,597.0 1461.6,597.3 Z" fill="#dcdcff" stroke="#8c8cff" stroke-width="1.2" stroke-linejoin="round"/>
<path d="M1461.6,595.7 C1463.3,595.0 1468.3,592.9 1471.6,591.4 C1474.9,590.0 1478.2,588.4 1481.5,586.8 C1484.8,585.3 1488.1,583.8 1491.4,582.3 C1494.7,580.8 1498.5,578.9 1501.4,577.7 C1504.3,576.5 1506.2,575.2 1508.8,575.0 C1511.4,574.8 1514.1,576.1 1517.0,576.6 C1519.9,577.1 1523.6,576.9 1526.2,578.0 C1528.8,579.1 1530.3,581.0 1532.8,583.2 C1535.3,585.3 1538.2,588.4 1541.0,590.9 C1543.8,593.4 1546.9,596.2 1549.4,598.1 C1551.9,599.9 1554.1,601.2 1556.0,602.0 C1557.9,602.8 1559.1,603.2 1561.0,603.0 C1562.9,602.8 1565.4,601.8 1567.6,600.9 C1569.8,599.9 1572.0,599.2 1574.2,597.3 C1576.4,595.4 1578.6,592.0 1580.8,589.5 C1583.0,586.9 1585.0,584.4 1587.5,582.2 C1590.0,580.1 1593.0,578.1 1595.7,576.5 C1598.5,574.9 1601.8,573.4 1604.0,572.6 C1606.2,571.9 1607.1,571.7 1609.0,571.9 C1610.9,572.0 1613.4,572.6 1615.6,573.6 C1617.8,574.7 1619.7,576.3 1622.2,578.2 C1624.7,580.0 1627.7,582.7 1630.5,584.5 C1633.3,586.4 1635.8,588.0 1638.8,589.4 C1641.8,590.8 1645.3,592.5 1648.8,592.9 C1652.3,593.3 1656.2,592.1 1659.9,591.9 C1663.6,591.7 1667.2,592.0 1670.9,591.9 C1674.6,591.8 1678.6,591.7 1681.9,591.1 C1685.2,590.6 1687.8,589.8 1690.7,588.5 C1693.7,587.2 1696.8,584.8 1699.6,583.2 C1702.4,581.6 1704.9,579.8 1707.3,578.8 C1709.7,577.7 1711.7,577.0 1713.9,576.9 C1716.1,576.9 1717.5,577.4 1720.5,578.4 C1723.5,579.5 1727.9,581.6 1731.6,583.1 C1735.3,584.5 1739.1,586.3 1742.6,587.2 C1746.1,588.1 1749.2,588.4 1752.5,588.5 C1755.8,588.7 1759.5,587.9 1762.5,588.0 C1765.5,588.2 1767.8,588.9 1770.2,589.5 C1772.6,590.1 1774.4,591.2 1776.8,591.5 C1779.2,591.8 1781.7,591.7 1784.5,591.6 C1787.3,591.4 1790.8,591.6 1793.4,590.5 C1796.0,589.4 1797.6,586.5 1800.0,584.7 C1802.4,582.9 1805.1,580.7 1807.7,579.6 C1810.3,578.4 1813.2,578.0 1815.4,578.0 C1817.6,577.9 1818.9,578.3 1820.9,579.3 C1822.9,580.2 1825.4,582.5 1827.6,583.9 C1829.8,585.2 1832.4,586.6 1834.2,587.4 C1836.0,588.2 1836.9,588.6 1838.6,588.5 C1840.2,588.3 1842.3,588.0 1844.1,586.6 C1845.9,585.2 1847.8,583.2 1849.6,580.1 C1851.4,577.1 1853.3,572.1 1855.1,568.2 C1856.9,564.2 1858.5,560.5 1860.4,556.5 C1862.3,552.5 1864.5,548.3 1866.5,544.1 C1868.5,539.8 1870.5,535.3 1872.5,531.1 C1874.5,527.0 1876.5,522.5 1878.5,519.2 C1880.5,515.8 1882.2,513.3 1884.6,511.1 C1886.9,508.8 1889.9,507.4 1892.6,505.8 C1895.3,504.3 1898.0,503.1 1900.7,502.0 C1903.4,500.9 1906.5,499.7 1908.8,499.1 C1911.1,498.4 1912.8,497.9 1914.8,498.1 C1916.8,498.3 1918.4,499.2 1920.8,500.3 C1923.2,501.3 1926.2,502.7 1928.9,504.4 C1931.6,506.1 1934.3,508.3 1937.0,510.4 C1939.7,512.4 1942.7,515.3 1945.0,516.8 C1947.3,518.3 1949.0,518.9 1951.0,519.4 C1953.0,519.9 1954.7,519.2 1957.1,519.9 C1959.5,520.6 1962.5,522.0 1965.2,523.5 C1967.9,525.0 1970.5,526.7 1973.2,528.8 C1975.9,530.9 1978.4,533.6 1981.3,536.1 C1984.2,538.6 1989.0,542.5 1990.5,543.8 L1990.5,561.8 C1989.0,560.6 1984.2,557.0 1981.3,554.7 C1978.4,552.3 1975.9,549.8 1973.2,547.8 C1970.5,545.9 1967.9,544.4 1965.2,543.1 C1962.5,541.7 1959.5,540.5 1957.1,539.7 C1954.7,538.9 1953.0,539.1 1951.0,538.2 C1949.0,537.4 1947.3,536.5 1945.0,534.6 C1942.7,532.8 1939.7,529.5 1937.0,527.0 C1934.3,524.6 1931.6,522.0 1928.9,520.0 C1926.2,518.0 1923.2,516.3 1920.8,514.9 C1918.4,513.6 1916.8,512.5 1914.8,512.1 C1912.8,511.7 1911.1,512.2 1908.8,512.7 C1906.5,513.2 1903.4,514.2 1900.7,515.2 C1898.0,516.2 1895.3,517.2 1892.6,518.6 C1889.9,519.9 1886.9,521.2 1884.6,523.3 C1882.2,525.4 1880.5,527.9 1878.5,531.2 C1876.5,534.6 1874.5,539.2 1872.5,543.5 C1870.5,547.7 1868.5,552.4 1866.5,556.7 C1864.5,561.1 1862.3,565.4 1860.4,569.5 C1858.5,573.6 1856.9,577.4 1855.1,581.4 C1853.3,585.5 1851.4,590.5 1849.6,593.7 C1847.8,596.8 1845.9,598.9 1844.1,600.4 C1842.3,601.9 1840.2,602.3 1838.6,602.5 C1836.9,602.8 1836.0,602.4 1834.2,601.8 C1832.4,601.2 1829.8,599.9 1827.6,598.7 C1825.4,597.5 1822.9,595.4 1820.9,594.5 C1818.9,593.7 1817.6,593.5 1815.4,593.6 C1813.2,593.8 1810.3,594.4 1807.7,595.4 C1805.1,596.5 1802.4,598.4 1800.0,600.1 C1797.6,601.8 1796.0,604.5 1793.4,605.5 C1790.8,606.5 1787.3,606.0 1784.5,606.0 C1781.7,606.0 1779.2,606.0 1776.8,605.5 C1774.4,605.0 1772.6,603.8 1770.2,603.1 C1767.8,602.4 1765.5,601.4 1762.5,601.2 C1759.5,601.0 1755.8,601.9 1752.5,601.9 C1749.2,601.8 1746.1,601.7 1742.6,601.0 C1739.1,600.2 1735.3,598.6 1731.6,597.3 C1727.9,596.0 1723.5,594.1 1720.5,593.2 C1717.5,592.3 1716.1,591.9 1713.9,591.9 C1711.7,591.8 1709.7,592.1 1707.3,592.8 C1704.9,593.5 1702.4,594.7 1699.6,596.2 C1696.8,597.7 1693.7,600.4 1690.7,601.9 C1687.8,603.3 1685.2,604.2 1681.9,604.9 C1678.6,605.6 1674.6,605.8 1670.9,606.1 C1667.2,606.4 1663.6,606.2 1659.9,606.5 C1656.2,606.8 1652.3,608.2 1648.8,608.1 C1645.3,608.0 1641.8,607.0 1638.8,606.0 C1635.8,605.1 1633.3,603.9 1630.5,602.5 C1627.7,601.0 1624.7,598.7 1622.2,597.2 C1619.7,595.8 1617.8,594.3 1615.6,593.6 C1613.4,592.8 1610.9,592.8 1609.0,592.7 C1607.1,592.6 1606.2,592.5 1604.0,593.0 C1601.8,593.4 1598.5,594.3 1595.7,595.5 C1593.0,596.6 1590.0,598.0 1587.5,599.8 C1585.0,601.5 1583.0,603.8 1580.8,605.9 C1578.6,608.1 1576.4,611.2 1574.2,612.7 C1572.0,614.2 1569.8,614.5 1567.6,615.1 C1565.4,615.7 1562.9,616.2 1561.0,616.2 C1559.1,616.1 1557.9,615.7 1556.0,614.8 C1554.1,613.9 1551.9,612.5 1549.4,610.5 C1546.9,608.6 1543.8,605.4 1541.0,602.9 C1538.2,600.4 1535.3,597.6 1532.8,595.6 C1530.3,593.6 1528.8,591.8 1526.2,590.8 C1523.6,589.9 1519.9,590.3 1517.0,590.0 C1514.1,589.7 1511.4,588.8 1508.8,589.0 C1506.2,589.2 1504.3,590.1 1501.4,591.1 C1498.5,592.1 1494.7,593.7 1491.4,594.9 C1488.1,596.1 1484.8,597.3 1481.5,598.6 C1478.2,599.8 1474.9,601.2 1471.6,602.4 C1468.3,603.5 1463.3,605.2 1461.6,605.7 Z" fill="#ffdada" stroke="#ff8a8a" stroke-width="1.2" stroke-linejoin="round"/>
<path d="M1461.6,595.2 C1462.7,594.8 1466.1,593.7 1468.2,592.7 C1470.3,591.7 1472.3,590.9 1474.0,589.4 C1475.7,587.9 1476.8,586.2 1478.2,583.6 C1479.6,581.0 1480.9,577.4 1482.3,573.7 C1483.7,570.0 1485.1,565.8 1486.5,561.3 C1487.9,556.8 1489.4,551.4 1490.6,546.4 C1491.8,541.4 1492.8,536.5 1493.9,531.5 C1495.0,526.5 1496.1,521.9 1497.2,516.6 C1498.3,511.3 1499.2,506.0 1500.5,499.5 C1501.8,493.0 1503.3,484.7 1504.7,477.8 C1506.1,470.9 1507.4,464.4 1508.8,458.0 C1510.2,451.6 1511.6,444.9 1513.0,439.7 C1514.4,434.4 1515.3,430.2 1517.0,426.5 C1518.7,422.8 1520.8,419.5 1522.9,417.4 C1525.0,415.3 1527.8,414.6 1529.5,414.0 C1531.2,413.4 1531.4,413.3 1532.8,413.6 C1534.2,413.9 1535.9,414.4 1537.8,415.7 C1539.7,417.0 1542.2,419.4 1544.4,421.5 C1546.6,423.6 1548.8,426.1 1551.0,428.0 C1553.2,429.9 1555.4,431.5 1557.6,433.0 C1559.8,434.5 1562.1,435.2 1564.3,437.0 C1566.5,438.8 1568.7,441.6 1570.9,443.9 C1573.1,446.1 1575.3,447.8 1577.5,450.5 C1579.7,453.2 1581.8,457.4 1584.0,460.4 C1586.2,463.4 1588.6,466.7 1590.8,468.7 C1593.0,470.7 1595.2,471.7 1597.4,472.4 C1599.6,473.1 1601.5,472.9 1604.0,472.8 C1606.5,472.7 1609.5,472.1 1612.3,472.0 C1615.1,471.9 1618.1,471.3 1620.6,472.0 C1623.1,472.7 1625.0,474.2 1627.2,476.0 C1629.4,477.8 1631.6,480.4 1633.8,482.8 C1636.0,485.2 1637.5,487.8 1640.4,490.5 C1643.3,493.2 1647.8,496.8 1651.0,498.8 C1654.2,500.8 1657.1,500.6 1659.9,502.6 C1662.7,504.6 1664.8,507.9 1667.6,510.9 C1670.3,513.9 1673.1,518.5 1676.4,520.8 C1679.7,523.1 1684.1,524.4 1687.4,524.7 C1690.7,525.0 1693.3,523.6 1696.3,522.5 C1699.2,521.4 1701.6,518.7 1705.1,518.3 C1708.6,517.9 1713.3,519.0 1717.2,520.3 C1721.1,521.6 1724.2,524.5 1728.3,526.3 C1732.3,528.0 1737.8,528.8 1741.5,530.8 C1745.2,532.8 1747.7,536.3 1750.3,538.5 C1752.9,540.7 1754.4,542.9 1757.0,544.0 C1759.6,545.1 1762.3,546.4 1765.8,545.1 C1769.3,543.8 1774.2,538.4 1777.9,536.3 C1781.6,534.2 1784.1,533.5 1787.8,532.4 C1791.5,531.3 1796.1,530.9 1800.0,529.6 C1803.9,528.4 1807.5,526.7 1811.0,524.9 C1814.5,523.1 1818.3,520.7 1821.0,518.9 C1823.7,517.1 1825.5,516.4 1827.4,514.2 C1829.3,512.1 1831.0,509.2 1832.6,506.0 C1834.2,502.8 1835.6,498.9 1836.8,495.0 C1838.0,491.1 1838.7,487.6 1839.7,482.8 C1840.7,478.0 1841.9,472.3 1843.0,466.2 C1844.1,460.1 1845.3,453.3 1846.3,446.4 C1847.3,439.5 1848.0,432.5 1848.8,424.8 C1849.6,417.1 1850.3,407.3 1851.0,400.0 C1851.7,392.7 1852.2,386.9 1852.8,381.0 C1853.3,375.1 1853.7,371.4 1854.3,364.5 C1854.9,357.6 1855.8,347.8 1856.6,339.7 C1857.4,331.6 1858.3,323.6 1859.3,316.0 C1860.3,308.4 1861.4,302.0 1862.6,294.0 C1863.8,286.0 1865.2,276.0 1866.5,268.0 C1867.8,260.0 1869.0,252.2 1870.4,246.0 C1871.8,239.8 1873.5,234.3 1874.8,231.0 C1876.1,227.7 1877.3,227.1 1878.5,226.0 C1879.7,224.9 1880.9,224.4 1882.2,224.5 C1883.5,224.6 1885.1,225.3 1886.6,226.7 C1888.1,228.1 1889.5,230.2 1891.0,233.0 C1892.5,235.8 1894.1,239.7 1895.9,243.5 C1897.7,247.3 1899.9,251.9 1902.0,256.0 C1904.1,260.1 1906.4,264.9 1908.3,268.3 C1910.2,271.7 1911.8,274.5 1913.3,276.4 C1914.8,278.3 1915.9,279.2 1917.6,279.5 C1919.2,279.8 1921.2,279.3 1923.2,278.3 C1925.2,277.3 1927.3,274.6 1929.4,273.3 C1931.5,272.1 1933.7,270.8 1935.6,270.8 C1937.5,270.8 1938.9,271.7 1940.6,273.3 C1942.2,274.9 1943.6,277.4 1945.5,280.7 C1947.4,284.0 1949.8,288.7 1951.8,293.0 C1953.8,297.3 1955.4,301.6 1957.5,306.6 C1959.6,311.6 1962.0,316.9 1964.5,323.0 C1967.0,329.1 1969.6,336.1 1972.3,343.0 C1975.0,349.9 1977.7,357.3 1980.4,364.5 C1983.1,371.7 1986.9,381.2 1988.7,386.0 C1990.5,390.8 1991.0,391.8 1991.5,393.0" fill="none" stroke="#0000ff" stroke-width="7.5" stroke-linejoin="round"/>
<path d="M1461.6,600.7 C1463.3,600.1 1468.3,598.2 1471.6,596.9 C1474.9,595.6 1478.2,594.1 1481.5,592.7 C1484.8,591.3 1488.1,590.0 1491.4,588.6 C1494.7,587.2 1498.5,585.5 1501.4,584.4 C1504.3,583.3 1506.2,582.2 1508.8,582.0 C1511.4,581.8 1514.1,582.9 1517.0,583.3 C1519.9,583.7 1523.6,583.4 1526.2,584.4 C1528.8,585.4 1530.3,587.3 1532.8,589.4 C1535.3,591.5 1538.2,594.4 1541.0,596.9 C1543.8,599.4 1546.9,602.4 1549.4,604.3 C1551.9,606.2 1554.1,607.5 1556.0,608.4 C1557.9,609.3 1559.1,609.7 1561.0,609.6 C1562.9,609.5 1565.4,608.8 1567.6,608.0 C1569.8,607.2 1572.0,606.7 1574.2,605.0 C1576.4,603.3 1578.6,600.0 1580.8,597.7 C1583.0,595.4 1585.0,593.0 1587.5,591.0 C1590.0,589.0 1593.0,587.4 1595.7,586.0 C1598.5,584.6 1601.8,583.4 1604.0,582.8 C1606.2,582.2 1607.1,582.2 1609.0,582.3 C1610.9,582.4 1613.4,582.7 1615.6,583.6 C1617.8,584.5 1619.7,586.1 1622.2,587.7 C1624.7,589.4 1627.7,591.8 1630.5,593.5 C1633.3,595.2 1635.8,596.5 1638.8,597.7 C1641.8,598.9 1645.3,600.2 1648.8,600.5 C1652.3,600.8 1656.2,599.5 1659.9,599.2 C1663.6,599.0 1667.2,599.2 1670.9,599.0 C1674.6,598.8 1678.6,598.6 1681.9,598.0 C1685.2,597.4 1687.8,596.6 1690.7,595.2 C1693.7,593.8 1696.8,591.3 1699.6,589.7 C1702.4,588.1 1704.9,586.7 1707.3,585.8 C1709.7,584.9 1711.7,584.4 1713.9,584.4 C1716.1,584.4 1717.5,584.8 1720.5,585.8 C1723.5,586.8 1727.9,588.8 1731.6,590.2 C1735.3,591.6 1739.1,593.3 1742.6,594.1 C1746.1,594.9 1749.2,595.1 1752.5,595.2 C1755.8,595.3 1759.5,594.4 1762.5,594.6 C1765.5,594.8 1767.8,595.6 1770.2,596.3 C1772.6,596.9 1774.4,598.1 1776.8,598.5 C1779.2,598.9 1781.7,598.9 1784.5,598.8 C1787.3,598.7 1790.8,599.1 1793.4,598.0 C1796.0,596.9 1797.6,594.1 1800.0,592.4 C1802.4,590.6 1805.1,588.6 1807.7,587.5 C1810.3,586.4 1813.2,585.9 1815.4,585.8 C1817.6,585.7 1818.9,586.0 1820.9,586.9 C1822.9,587.8 1825.4,590.0 1827.6,591.3 C1829.8,592.6 1832.4,593.9 1834.2,594.6 C1836.0,595.3 1836.9,595.7 1838.6,595.5 C1840.2,595.3 1842.3,594.9 1844.1,593.5 C1845.9,592.1 1847.8,590.0 1849.6,586.9 C1851.4,583.8 1853.3,578.8 1855.1,574.8 C1856.9,570.8 1858.5,567.1 1860.4,563.0 C1862.3,558.9 1864.5,554.7 1866.5,550.4 C1868.5,546.1 1870.5,541.5 1872.5,537.3 C1874.5,533.1 1876.5,528.6 1878.5,525.2 C1880.5,521.9 1882.2,519.4 1884.6,517.2 C1886.9,515.0 1889.9,513.6 1892.6,512.2 C1895.3,510.8 1898.0,509.7 1900.7,508.6 C1903.4,507.6 1906.5,506.5 1908.8,505.9 C1911.1,505.3 1912.8,504.8 1914.8,505.1 C1916.8,505.4 1918.4,506.4 1920.8,507.6 C1923.2,508.8 1926.2,510.4 1928.9,512.2 C1931.6,514.1 1934.3,516.5 1937.0,518.7 C1939.7,521.0 1942.7,524.0 1945.0,525.7 C1947.3,527.4 1949.0,528.1 1951.0,528.8 C1953.0,529.5 1954.7,529.0 1957.1,529.8 C1959.5,530.5 1962.5,531.9 1965.2,533.3 C1967.9,534.7 1970.5,536.3 1973.2,538.3 C1975.9,540.3 1978.4,543.0 1981.3,545.4 C1984.2,547.8 1989.0,551.6 1990.5,552.8" fill="none" stroke="#ff0000" stroke-width="7.5" stroke-linejoin="round"/>
</g>
<rect x="1491" y="193" width="500.6" height="9" fill="#0000ff"/>
<rect x="1856" y="176.4" width="133" height="8.6" fill="#ff0000"/>
<text transform="translate(1470.6,162.5) scale(1,1.04)" font-size="27.7">Cue1</text>
<text transform="translate(1574.9,162.5) scale(1,1.04)" font-size="27.7">Cue2</text>
<text transform="translate(1680.5,162.5) scale(1,1.04)" font-size="27.7">Cue3</text>
<text transform="translate(1833.7,162.5) scale(1,1.04)" font-size="27.7">Test1</text>
<text transform="translate(1935.6,162.5) scale(1,1.04)" font-size="27.7">Test2</text>
<text transform="translate(1386,385.5) rotate(-90) scale(1,1.04)" font-size="33" text-anchor="middle">PEV Cue 1</text>
</g>
<text transform="translate(1360.2,717.7) scale(1,1.04)" font-size="34.5" text-anchor="middle">Time (s)</text>
</svg>
</body></html>
